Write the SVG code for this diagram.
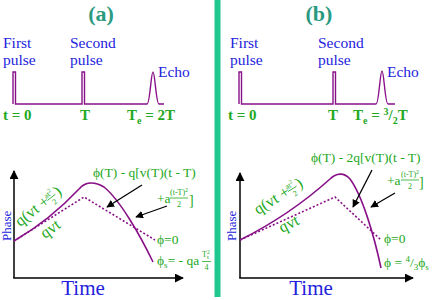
<svg xmlns="http://www.w3.org/2000/svg" width="436" height="300" viewBox="0 0 436 300">
<defs>
<style>
text { font-family: "Liberation Serif", "Times New Roman", serif; }
.title { fill:#2a9a80; font-weight:bold; font-size:22px; }
.blue { fill:#2222dd; font-size:15.5px; }
.tlab { fill:#22a822; font-weight:bold; font-size:15px; }
.g { fill:#22a822; font-size:13.5px; }
.gs { fill:#22a822; font-size:8px; }
.gr { fill:#22a822; font-size:16px; }
.bar { stroke:#22a822; stroke-width:0.8; }
.pulse { fill:none; stroke:#881188; stroke-width:1.4; }
.curve { fill:none; stroke:#881188; stroke-width:1.6; }
.dot { fill:none; stroke:#881188; stroke-width:1.6; stroke-dasharray:2,2; }
.axis { fill:none; stroke:#000; stroke-width:1.5; marker-end:url(#ah); }
.arr { fill:none; stroke:#000; stroke-width:1.3; marker-end:url(#as); }
.divider { fill:#20c890; }
</style>
<marker id="ah" viewBox="0 0 10 10" refX="9" refY="5" markerWidth="6" markerHeight="6" orient="auto" markerUnits="strokeWidth">
<path d="M0,0 L10,5 L0,10 z" fill="#000"/>
</marker>
<marker id="as" viewBox="0 0 10 10" refX="9" refY="5" markerWidth="6" markerHeight="6" orient="auto" markerUnits="strokeWidth">
<path d="M0,0 L10,5 L0,10 z" fill="#000"/>
</marker>
</defs>
<rect width="436" height="300" fill="#fff"/>
<rect class="divider" x="214.5" y="0" width="6" height="297"/>

<!-- Panel (a) -->
<g id="panel-a">
<text class="title" x="101" y="21" text-anchor="middle">(a)</text>
<g id="a-first-pulse">
<text class="blue" x="3" y="48">First</text>
<text class="blue" x="3" y="65">pulse</text>
</g>
<g id="a-second-pulse">
<text class="blue" x="70" y="48">Second</text>
<text class="blue" x="70" y="65">pulse</text>
</g>
<g id="a-echo">
<text class="blue" x="158" y="77">Echo</text>
</g>
<g id="a-pulse-train">
<path class="pulse" d="M13,104 V72 H15.5 V104 H82 V72 H84.5 V104 H147 C150,104 151,72 153,72 C155,72 156,104 159,104 H164"/>
</g>
<g id="a-times">
<text class="tlab" x="3" y="120">t = 0</text>
<text class="tlab" x="80" y="120">T</text>
<text class="tlab" x="127" y="120">T<tspan font-size="10" dy="4">e</tspan><tspan dy="-4"> = 2T</tspan></text>
</g>
<g id="a-axes">
<line class="axis" x1="14" y1="278" x2="14" y2="171"/>
<line class="axis" x1="13.25" y1="278" x2="183" y2="278"/>
<text class="blue" style="font-size:13px" transform="translate(11,241) rotate(-90)">Phase</text>
<text class="blue" style="font-size:21px" x="83" y="295" text-anchor="middle">Time</text>
</g>
<g id="a-curves">
<path class="curve" d="M14,241 Q50,220 79,189 C85,182 94,181 104,187 C120,200 140,235 153,262"/>
<path class="dot" d="M14,241 L84,197 L155,240"/>
</g>
<g id="a-labels">
<g transform="translate(20,227) rotate(-38)">
<text class="gr" x="0" y="0">q(vt + </text>
<text class="gs" x="38" y="-6">at<tspan font-size="6" dy="-3">2</tspan></text>
<line class="bar" x1="38" y1="-4" x2="48" y2="-4"/>
<text class="gs" x="43" y="4" text-anchor="middle">2</text>
<text class="gr" x="49" y="0">)</text>
</g>
<text class="gr" transform="translate(45,239) rotate(-36)">qvt</text>
<text class="g" x="93" y="177">ϕ(T) - q[v(T)(t - T)</text>
<text class="g" x="157" y="203">+a</text>
<text class="gs" x="170" y="195">(t-T)<tspan font-size="6" dy="-3">2</tspan></text>
<line class="bar" x1="170" y1="198" x2="188" y2="198"/>
<text class="gs" x="179" y="207" text-anchor="middle">2</text>
<text class="g" x="189" y="205" style="font-size:14px">]</text>
<text class="g" x="157" y="244">ϕ=0</text>
<text class="g" x="157" y="265">ϕ<tspan font-size="9" dy="3">s</tspan><tspan dy="-3">= - qa</tspan></text>
<text class="gs" x="202" y="257">T<tspan font-size="5.5" dy="-3">2</tspan><tspan font-size="5.5" dy="4.5" dx="-3">s</tspan></text>
<line class="bar" x1="202" y1="261.5" x2="211" y2="261.5"/>
<text class="gs" x="206.5" y="270" text-anchor="middle">4</text>
</g>
</g>

<!-- Panel (b) -->
<g id="panel-b">
<text class="title" x="319" y="21" text-anchor="middle">(b)</text>
<g id="b-first-pulse">
<text class="blue" x="230" y="48">First</text>
<text class="blue" x="230" y="65">pulse</text>
</g>
<g id="b-second-pulse">
<text class="blue" x="318" y="48">Second</text>
<text class="blue" x="318" y="65">pulse</text>
</g>
<g id="b-echo">
<text class="blue" x="387" y="77">Echo</text>
</g>
<g id="b-pulse-train">
<path class="pulse" d="M239,104 V72 H241.5 V104 H333 V72 H335.5 V104 H376 C379,104 380,71 382,71 C384,71 385,104 388,104 H395"/>
</g>
<g id="b-times">
<text class="tlab" x="228" y="120">t = 0</text>
<text class="tlab" x="328" y="120">T</text>
<text class="tlab" x="353" y="120">T<tspan font-size="10" dy="4">e</tspan><tspan dy="-4"> = </tspan><tspan font-size="10" dy="-5">3</tspan><tspan dy="5">/</tspan><tspan font-size="10" dy="4">2</tspan><tspan dy="-4">T</tspan></text>
</g>
<g id="b-axes">
<line class="axis" x1="240" y1="278" x2="240" y2="173"/>
<line class="axis" x1="239.25" y1="278" x2="413" y2="278"/>
<text class="blue" style="font-size:13px" transform="translate(236,241) rotate(-90)">Phase</text>
<text class="blue" style="font-size:21px" x="311" y="295" text-anchor="middle">Time</text>
</g>
<g id="b-curves">
<path class="curve" d="M240,240 Q290,215 330,179 C336,173 344,172 350,179 C362,195 374,235 381,268"/>
<path class="dot" d="M240,240 L335,197 L381,240"/>
</g>
<g id="b-labels">
<g transform="translate(258,215) rotate(-32)">
<text class="gr" x="0" y="0">q(vt + </text>
<text class="gs" x="38" y="-6">at<tspan font-size="6" dy="-3">2</tspan></text>
<line class="bar" x1="38" y1="-4" x2="48" y2="-4"/>
<text class="gs" x="43" y="4" text-anchor="middle">2</text>
<text class="gr" x="49" y="0">)</text>
</g>
<text class="gr" transform="translate(282,233) rotate(-27)">qvt</text>
<text class="g" x="311" y="162">ϕ(T) - 2q[v(T)(t - T)</text>
<text class="g" x="387" y="185">+a</text>
<text class="gs" x="401" y="177">(t-T)<tspan font-size="6" dy="-3">2</tspan></text>
<line class="bar" x1="401" y1="180" x2="419" y2="180"/>
<text class="gs" x="410" y="189" text-anchor="middle">2</text>
<text class="g" x="419" y="187" style="font-size:14px">]</text>
<text class="g" x="384" y="243">ϕ=0</text>
<text class="g" x="384" y="267">ϕ = <tspan font-size="9" dy="-5">4</tspan><tspan dy="5">/</tspan><tspan font-size="9" dy="3">3</tspan><tspan dy="-3">ϕ</tspan><tspan font-size="9" dy="3">s</tspan></text>
</g>
</g>

<g id="connectors">
<line class="arr" x1="142" y1="185" x2="107" y2="207"/>
<line class="arr" x1="167" y1="206" x2="136" y2="217"/>
<line class="arr" x1="372" y1="170" x2="353" y2="207"/>
<line class="arr" x1="395" y1="193" x2="371" y2="207"/>
</g>
</svg>
